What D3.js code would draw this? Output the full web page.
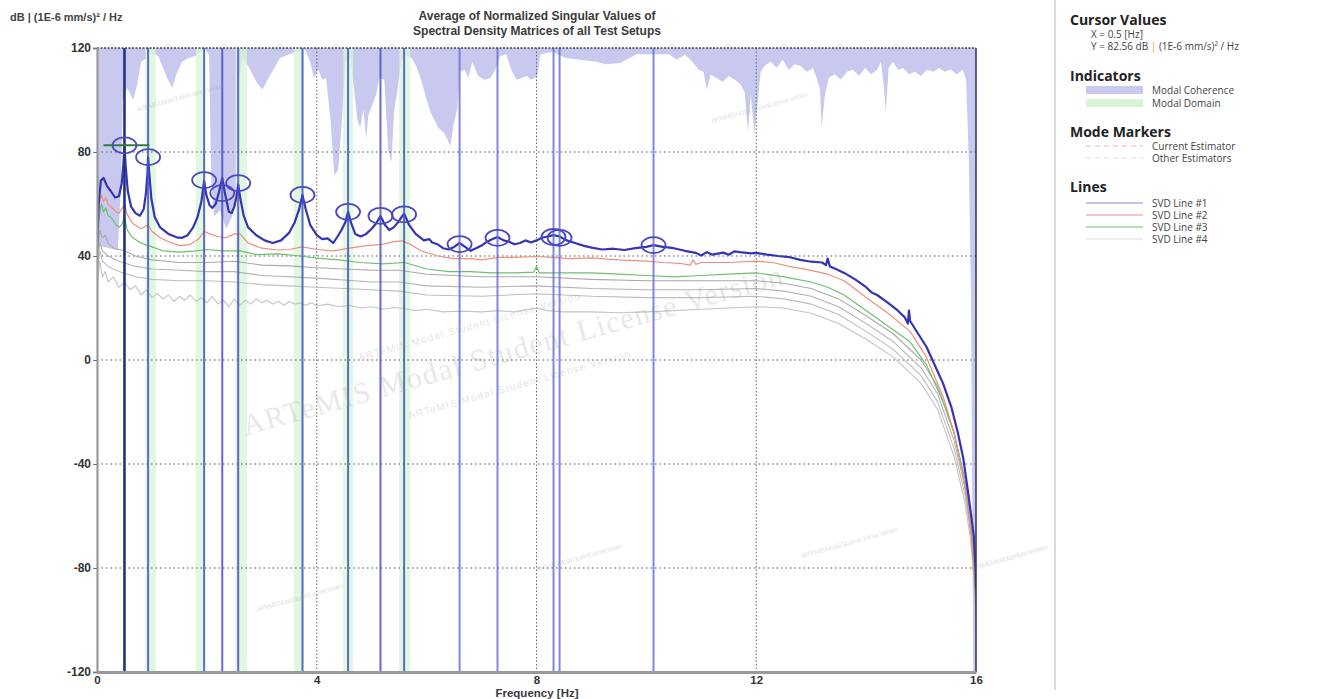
<!DOCTYPE html>
<html>
<head>
<meta charset="utf-8">
<script src="https://cdn.jsdelivr.net/npm/d3@7"></script>
<style>
  html, body { margin: 0; padding: 0; background: #fff; }
  svg { display: block; }
</style>
</head>
<body>
<svg id="chart" width="1321" height="699"></svg>
<script>
// ---- Data -------------------------------------------------------------
const xTicks = [0, 4, 8, 12, 16];
const yTicks = [-120, -80, -40, 0, 40, 80, 120];

// [frequency Hz, dB]
const svd1 = [[0,42],[0.03,60],[0.07,69],[0.12,70],[0.18,67],[0.25,65],[0.33,62.5],[0.40,63],[0.45,68],[0.48,75],[0.50,82.56],[0.52,75],[0.56,65],[0.62,59],[0.70,56.5],[0.78,55.5],[0.85,58],[0.89,64],[0.92,72],[0.93,78],[0.95,72],[0.99,62],[1.05,55],[1.15,51],[1.30,48.5],[1.45,47.2],[1.55,47],[1.65,48],[1.75,51],[1.83,55],[1.90,61],[1.95,68.8],[1.99,63.5],[2.05,59.5],[2.10,58.5],[2.16,60],[2.22,64.5],[2.28,70],[2.33,64],[2.40,57],[2.45,56.5],[2.50,59],[2.54,63],[2.57,67.5],[2.61,62],[2.67,55.5],[2.75,51],[2.90,48],[3.05,46],[3.20,45],[3.35,46],[3.50,49],[3.60,53],[3.68,58],[3.74,63.5],[3.80,58],[3.88,52],[4.00,48],[4.10,46.5],[4.20,46.8],[4.30,45],[4.38,47.5],[4.45,50],[4.52,53],[4.57,57],[4.62,53],[4.70,48.5],[4.80,47.5],[4.90,48.5],[5.00,50.5],[5.08,52.5],[5.16,55.4],[5.24,52],[5.32,50],[5.40,51],[5.48,53],[5.59,56.3],[5.68,52],[5.80,48.5],[5.95,46],[6.05,46.5],[6.10,45.2],[6.20,44.5],[6.30,43],[6.40,42.5],[6.50,43.5],[6.60,45],[6.70,43.5],[6.80,42],[6.90,43],[7.00,44],[7.10,45.5],[7.20,46.5],[7.29,47.3],[7.40,46],[7.50,45.5],[7.60,44.5],[7.70,45],[7.80,46],[7.90,45.2],[8.00,46],[8.10,47],[8.20,47.5],[8.31,48],[8.42,47.5],[8.55,46],[8.70,45],[8.85,44],[9.00,43.2],[9.20,42.5],[9.40,42.8],[9.60,42.3],[9.80,43],[10.00,43.5],[10.13,44.2],[10.30,43.5],[10.50,43],[10.70,42],[10.90,41.2],[11.00,40.2],[11.10,41.5],[11.20,40.5],[11.40,41.3],[11.50,40.5],[11.60,41.8],[11.70,41.5],[11.90,41],[12.00,41.2],[12.20,40.5],[12.40,40],[12.60,39.6],[12.80,38.5],[13.00,37.8],[13.20,37.5],[13.27,36.5],[13.30,39],[13.34,36],[13.45,35],[13.60,33.5],[13.80,31],[14.00,28],[14.10,26],[14.20,25],[14.40,22],[14.55,19.5],[14.70,16.5],[14.76,14],[14.78,19],[14.80,15],[14.95,10],[15.10,5],[15.25,-2],[15.40,-9],[15.55,-18],[15.67,-28],[15.77,-38],[15.85,-50],[15.92,-61],[15.96,-68],[15.99,-80],[16.00,-88]];

const svd2 = [[0,45],[0.04,60],[0.08,63.5],[0.12,61],[0.16,62.5],[0.20,60],[0.25,59],[0.30,58],[0.35,57],[0.40,56.5],[0.45,58],[0.50,60],[0.55,56],[0.65,52.5],[0.80,50.5],[0.93,52],[1.00,49.5],[1.15,47],[1.30,45.5],[1.50,44],[1.70,44.5],[1.85,46.5],[1.95,49.5],[2.05,48.5],[2.20,47.5],[2.35,47],[2.50,48.5],[2.60,48.5],[2.75,45],[3.00,43],[3.30,42.3],[3.50,42.5],[3.74,43.5],[4.00,42.5],[4.30,42],[4.60,43],[4.90,44],[5.20,44.5],[5.40,45.5],[5.55,45.8],[5.70,44.5],[5.90,42],[6.20,40],[6.50,39],[6.80,39],[7.00,38.5],[7.30,39.5],[7.60,39.5],[8.00,39.8],[8.30,39.5],[8.60,39],[9.00,39.3],[9.50,38.5],[10.00,38],[10.30,37.5],[10.60,37.2],[10.80,36.5],[10.85,38.5],[10.90,36.8],[11.00,37.5],[11.50,37.5],[12.00,38],[12.30,37.5],[12.60,36],[13.00,34.5],[13.30,33],[13.60,30.5],[14.00,24],[14.40,18],[14.80,11],[15.10,1],[15.40,-14],[15.60,-28],[15.75,-43],[15.85,-55],[15.91,-66],[15.96,-78],[16.00,-92]];

const svd3 = [[0,40],[0.04,55],[0.08,60],[0.12,57],[0.16,58.5],[0.20,55.5],[0.25,55],[0.30,53.5],[0.35,52],[0.40,51],[0.45,52],[0.50,55],[0.55,50],[0.65,47],[0.80,45],[1.00,43.5],[1.20,42],[1.50,41.5],[1.80,42],[2.00,42.5],[2.30,42],[2.60,42],[2.90,40.5],[3.30,40.8],[3.70,40],[4.00,39.2],[4.40,38.5],[4.80,37.5],[5.20,37],[5.60,37.5],[6.00,35],[6.40,34],[6.80,34],[7.20,33.5],[7.60,33.5],[7.95,33.8],[8.00,36],[8.05,33.5],[8.50,33.5],[9.00,33.5],[9.50,33],[10.00,32.5],[10.50,32],[11.00,32.5],[11.50,33],[12.00,33.5],[12.50,32],[13.00,30],[13.30,28],[13.60,25],[14.00,19],[14.40,13],[14.80,7],[15.10,-2],[15.40,-16],[15.60,-28],[15.75,-42],[15.85,-56],[15.92,-68],[15.97,-82],[16.00,-95]];

const svd4 = [[0,38],[0.05,50],[0.10,47],[0.15,48],[0.20,45],[0.30,43],[0.50,42],[0.70,40],[1.00,38.5],[1.50,37.5],[2.00,37.5],[2.50,38],[3.00,36.5],[3.50,36.2],[4.00,35.5],[4.50,35],[5.00,34.5],[5.50,34.5],[6.00,33],[7.00,32],[8.00,32],[9.00,31],[10.00,30.5],[11.00,30.5],[12.00,30.5],[12.50,29.5],[13.00,27.5],[13.50,23.5],[14.00,17],[14.50,10],[15.00,0],[15.30,-10],[15.60,-28],[15.80,-46],[15.90,-60],[15.96,-75],[16.00,-97]];

const svd5 = [[0,35],[0.05,45],[0.10,42],[0.20,40],[0.40,38],[0.70,36],[1.00,35],[1.50,34.5],[2.00,34],[2.50,34],[3.00,32.5],[4.00,31.5],[5.00,30],[5.50,30],[6.00,28.5],[7.00,28],[8.00,28.5],[9.00,27.5],[10.00,27],[11.00,27],[12.00,27.5],[12.50,26.5],[13.00,24.5],[13.50,20.5],[14.00,14],[14.50,7],[15.00,-3],[15.30,-13],[15.60,-31],[15.80,-49],[15.90,-63],[15.96,-78],[16.00,-99]];

const svd6 = [[0,32],[0.05,42],[0.10,38],[0.20,36],[0.40,34],[0.70,32],[1.00,31],[1.50,30.5],[2.00,30.5],[2.50,30],[3.00,29],[4.00,28],[5.00,27],[5.50,26.5],[6.00,25],[7.00,24.5],[8.00,25.5],[9.00,24.5],[10.00,24],[11.00,24],[12.00,24.5],[12.50,23.5],[13.00,21.5],[13.50,17.5],[14.00,11],[14.50,4],[15.00,-6],[15.30,-16],[15.60,-34],[15.80,-52],[15.90,-66],[15.96,-81],[16.00,-101]];

const svd7 = [[0,28],[0.05,38],[0.10,32],[0.15,34],[0.20,30],[0.30,32],[0.40,28],[0.50,30],[0.60,27],[0.70,28.5],[0.80,25],[0.90,27],[1.00,24],[1.10,25.5],[1.20,23.5],[1.30,25],[1.40,22.5],[1.50,24.5],[1.60,23],[1.70,25],[1.80,22.5],[1.90,24],[2.00,22],[2.10,24.5],[2.20,21.5],[2.30,23],[2.40,20.5],[2.50,23.5],[2.60,21],[2.70,23],[2.80,21.5],[2.90,23.5],[3.00,22],[3.10,23],[3.20,21.5],[3.30,22.5],[3.40,21],[3.50,22.5],[3.60,21.5],[3.70,22],[3.80,21],[3.90,22],[4.00,20.8],[4.20,21.5],[4.40,20.5],[4.60,21],[4.80,20],[5.00,20.5],[5.20,19.5],[5.40,20.2],[5.60,19.8],[5.80,19],[6.00,19.5],[6.30,18.5],[6.60,18.8],[7.00,18.5],[7.30,19],[7.60,18.5],[8.00,20],[8.20,19],[8.50,18.5],[9.00,18.5],[9.50,18.2],[10.00,18.5],[10.50,19],[11.00,19.5],[11.50,20],[12.00,20.5],[12.50,20],[13.00,18],[13.50,14],[14.00,8],[14.50,1],[15.00,-9],[15.30,-19],[15.60,-37],[15.80,-55],[15.90,-69],[15.96,-84],[16.00,-103]];

// Modal coherence, [frequency Hz, coherence 0..1], drawn down from the top edge
const coherence = [[0,0.316],[0.38,0.324],[0.44,0.212],[0.47,0.083],[0.55,0.064],[0.66,0.083],[0.73,0.059],[0.80,0.022],[0.91,0.016],[0.97,0.006],[1.11,0.013],[1.18,0.027],[1.29,0.051],[1.37,0.064],[1.44,0.043],[1.55,0.022],[1.66,0.016],[1.79,0.013],[1.88,0.006],[1.97,0.003],[2.04,0.011],[2.08,0.212],[2.13,0.27],[2.24,0.26],[2.35,0.29],[2.46,0.27],[2.53,0.25],[2.57,0.051],[2.66,0.016],[2.79,0.035],[2.90,0.054],[3.01,0.067],[3.12,0.048],[3.23,0.032],[3.33,0.016],[3.48,0.011],[3.63,0.006],[3.79,0.003],[3.88,0.022],[3.95,0.048],[4.03,0.035],[4.10,0.051],[4.17,0.048],[4.25,0.115],[4.32,0.204],[4.39,0.196],[4.46,0.115],[4.52,0.022],[4.61,0.016],[4.68,0.067],[4.74,0.115],[4.79,0.128],[4.85,0.099],[4.90,0.147],[4.94,0.107],[5.01,0.091],[5.08,0.075],[5.14,0.048],[5.23,0.051],[5.30,0.163],[5.36,0.183],[5.41,0.099],[5.47,0.067],[5.54,0.019],[5.63,0.011],[5.72,0.016],[5.81,0.029],[5.90,0.051],[6.00,0.083],[6.07,0.103],[6.14,0.115],[6.21,0.128],[6.31,0.135],[6.38,0.147],[6.43,0.157],[6.49,0.123],[6.56,0.096],[6.61,0.038],[6.69,0.035],[6.76,0.048],[6.83,0.022],[6.94,0.045],[7.05,0.051],[7.16,0.048],[7.25,0.035],[7.34,0.013],[7.45,0.010],[7.54,0.035],[7.64,0.051],[7.73,0.048],[7.82,0.045],[7.91,0.051],[8.02,0.045],[8.07,0.010],[8.29,0.006],[8.53,0.016],[8.80,0.019],[9.09,0.022],[9.26,0.026],[9.53,0.024],[9.82,0.010],[10.11,0.010],[10.41,0.010],[10.55,0.019],[10.70,0.011],[10.84,0.022],[10.95,0.035],[11.04,0.038],[11.10,0.067],[11.17,0.043],[11.28,0.048],[11.39,0.054],[11.50,0.045],[11.61,0.051],[11.72,0.059],[11.79,0.071],[11.85,0.135],[11.90,0.075],[11.97,0.139],[12.03,0.083],[12.08,0.038],[12.15,0.029],[12.26,0.022],[12.37,0.032],[12.48,0.019],[12.59,0.035],[12.70,0.026],[12.81,0.029],[12.92,0.038],[13.03,0.032],[13.10,0.048],[13.16,0.067],[13.19,0.128],[13.25,0.075],[13.32,0.048],[13.43,0.042],[13.54,0.051],[13.65,0.038],[13.76,0.035],[13.87,0.045],[13.98,0.032],[14.09,0.042],[14.20,0.035],[14.27,0.022],[14.32,0.059],[14.36,0.103],[14.41,0.032],[14.49,0.022],[14.58,0.035],[14.67,0.032],[14.78,0.042],[14.89,0.038],[15.00,0.045],[15.11,0.035],[15.22,0.038],[15.33,0.032],[15.43,0.038],[15.54,0.035],[15.65,0.042],[15.76,0.035],[15.82,0.051],[15.87,0.18],[15.91,0.40],[15.95,1.0],[16.0,1.0]];

// Modal domain bands [from Hz, to Hz]
const modalDomains = [[0.88,1.07],[1.80,1.97],[2.52,2.73],[3.58,3.77],[4.48,4.66],[5.50,5.70]];

// Picked modes: frequency and peak level
const modeFreq = [0.50, 0.93, 1.95, 2.28, 2.57, 3.74, 4.57, 5.16, 5.59, 6.60, 7.29, 8.31, 8.42, 10.13];
const modeDb   = [82.56, 78, 69.2, 64.2, 68, 63.5, 57, 55.4, 56, 44.6, 47, 47.3, 47, 44.2];

// Cursor position
const cursorX = 0.5;
const cursorY = 82.56;

const seriesNames = ["SVD Line #1", "SVD Line #2", "SVD Line #3", "SVD Line #4"];

// ---- Drawing ----------------------------------------------------------
const svg = d3.select("#chart");
const x = d3.scaleLinear().domain([0, 16]).range([97, 976]);
const y = d3.scaleLinear().domain([-120, 120]).range([672, 48]);
const cohY = d3.scaleLinear().domain([0, 1]).range([48, 672]);
const yTop = y(120), yBot = y(-120);

svg.append("defs").append("clipPath").attr("id", "plotClip")
  .append("rect").attr("x", x(0)).attr("y", yTop)
  .attr("width", x(16) - x(0)).attr("height", yBot - yTop);

const plot = svg.append("g").attr("clip-path", "url(#plotClip)");

// modal coherence
plot.append("path")
  .datum(coherence)
  .attr("fill", "#c9c9ef")
  .attr("d", d3.area().x(d => x(d[0])).y0(yTop).y1(d => cohY(d[1])));

// modal domain bands
plot.selectAll("rect.domain").data(modalDomains).join("rect")
  .attr("class", "domain")
  .attr("x", d => x(d[0])).attr("width", d => x(d[1]) - x(d[0]))
  .attr("y", yTop).attr("height", yBot - yTop)
  .attr("fill", "#d6f4d6").attr("opacity", 0.75);

// grid
plot.selectAll("line.hgrid").data(yTicks.filter(v => v > -120 && v < 120)).join("line")
  .attr("class", "hgrid")
  .attr("x1", x(0)).attr("x2", x(16)).attr("y1", d => y(d)).attr("y2", d => y(d))
  .attr("stroke", "#555").attr("stroke-width", 1.2).attr("stroke-dasharray", "1.5,3");
plot.selectAll("line.vgrid").data(xTicks.filter(v => v > 0 && v < 16)).join("line")
  .attr("class", "vgrid")
  .attr("x1", d => x(d)).attr("x2", d => x(d)).attr("y1", yTop).attr("y2", yBot)
  .attr("stroke", "#666").attr("stroke-width", 1).attr("stroke-dasharray", "1.5,2");

// watermark
const wm = svg.append("g").attr("pointer-events", "none");
wm.append("text")
  .attr("transform", "translate(515,360) rotate(-15.7)")
  .attr("text-anchor", "middle")
  .attr("font-family", "Liberation Serif, serif")
  .attr("font-size", 30)
  .attr("textLength", 560)
  .attr("fill", "#999").attr("opacity", 0.22)
  .text("ARTeMIS Modal Student License Version");
[[470, 330, 10, 230], [520, 388, 10, 230], [180, 100, 7, 90], [760, 110, 7, 100], [850, 545, 7, 100], [300, 600, 7, 90], [1010, 560, 7, 80], [580, 560, 7, 90]].forEach(([cx, cy, fs, len]) => {
  wm.append("text")
    .attr("transform", `translate(${cx},${cy}) rotate(-15.7)`)
    .attr("text-anchor", "middle")
    .attr("font-family", "Liberation Sans, Arial, sans-serif")
    .attr("font-size", fs).attr("textLength", len)
    .attr("fill", "#999").attr("opacity", 0.25)
    .text("ARTeMIS Modal Student License Version");
});

// SVD lines (lowest first)
const line = d3.line().x(d => x(d[0])).y(d => y(d[1]));
const lineStyles = [
  { data: svd7, color: "#c4c4c4", w: 1.1 },
  { data: svd6, color: "#bdbdbd", w: 1.1 },
  { data: svd5, color: "#b3b3b3", w: 1.1 },
  { data: svd4, color: "#a9a9a9", w: 1.1 },
  { data: svd3, color: "#6fbf6f", w: 1.2 },
  { data: svd2, color: "#ee8f7e", w: 1.2 },
  { data: svd1, color: "#3434b4", w: 2.2 }
];
lineStyles.forEach(s => {
  plot.append("path").datum(s.data)
    .attr("fill", "none").attr("stroke", s.color).attr("stroke-width", s.w)
    .attr("stroke-linejoin", "round").attr("d", line);
});

// mode lines
plot.selectAll("line.mode").data(modeFreq).join("line")
  .attr("class", "mode")
  .attr("x1", d => x(d)).attr("x2", d => x(d)).attr("y1", yTop).attr("y2", yBot)
  .attr("stroke", (d, i) => i < 9 ? "#4a52c4" : "#6f6fdc")
  .attr("stroke-width", 2).attr("opacity", 0.85);

// cursor
plot.append("line")
  .attr("x1", x(cursorX)).attr("x2", x(cursorX)).attr("y1", yTop).attr("y2", yBot)
  .attr("stroke", "#20357e").attr("stroke-width", 2.4);
plot.append("line")
  .attr("x1", x(cursorX) - 21).attr("x2", x(cursorX) + 25).attr("y1", y(cursorY)).attr("y2", y(cursorY))
  .attr("stroke", "#2f7d3a").attr("stroke-width", 2);

// mode marker ellipses
plot.selectAll("ellipse.peak").data(modeFreq).join("ellipse")
  .attr("class", "peak")
  .attr("cx", d => x(d)).attr("cy", (d, i) => y(modeDb[i]))
  .attr("rx", 12).attr("ry", 8)
  .attr("fill", "none").attr("stroke", "#4848c4").attr("stroke-width", 1.8);

// frame
svg.append("line").attr("x1", x(0)).attr("x2", x(16)).attr("y1", yTop).attr("y2", yTop)
  .attr("stroke", "#444").attr("stroke-width", 1.5).attr("stroke-dasharray", "2,1.5");
svg.append("line").attr("x1", x(16)).attr("x2", x(16)).attr("y1", yTop).attr("y2", yBot)
  .attr("stroke", "#3a3a5a").attr("stroke-width", 1.6);

// axes
const font = "Liberation Sans, Arial, sans-serif";
const plain = d => String(d);
const yAxis = svg.append("g").attr("transform", `translate(${x(0)},0)`)
  .call(d3.axisLeft(y).tickValues(yTicks).tickFormat(plain).tickSize(4).tickPadding(2));
yAxis.select(".domain").attr("stroke", "#999").attr("stroke-width", 2.2);
yAxis.selectAll(".tick line").attr("stroke", "#777");
yAxis.selectAll("text").attr("font-family", font).attr("font-size", 12)
  .attr("font-weight", "bold").attr("fill", "#333");

const xAxis = svg.append("g").attr("transform", `translate(0,${yBot})`)
  .call(d3.axisBottom(x).tickValues(xTicks).tickFormat(plain).tickSize(0).tickPadding(4));
xAxis.select(".domain").attr("stroke", "#999").attr("stroke-width", 3);
xAxis.selectAll("text").attr("font-family", font).attr("font-size", 11.5)
  .attr("font-weight", "bold").attr("fill", "#333");

// titles
svg.append("text").attr("x", 10).attr("y", 21)
  .attr("font-family", font).attr("font-size", 11).attr("font-weight", "bold").attr("fill", "#444")
  .text("dB | (1E-6 mm/s)² / Hz");
const title = svg.append("text").attr("text-anchor", "middle")
  .attr("font-family", font).attr("font-size", 12).attr("font-weight", "bold").attr("fill", "#3a3a3a");
title.append("tspan").attr("x", 537).attr("y", 20).text("Average of Normalized Singular Values of");
title.append("tspan").attr("x", 537).attr("y", 35).text("Spectral Density Matrices of all Test Setups");
svg.append("text").attr("x", 537).attr("y", 697).attr("text-anchor", "middle")
  .attr("font-family", font).attr("font-size", 11.5).attr("font-weight", "bold").attr("fill", "#3a3a3a")
  .text("Frequency [Hz]");

// ---- Side panel -------------------------------------------------------
svg.append("line").attr("x1", 1055).attr("x2", 1055).attr("y1", 0).attr("y2", 690)
  .attr("stroke", "#b5b5b5").attr("stroke-width", 1);

const lf = "Open Sans, Noto Sans, sans-serif";
const panel = svg.append("g");
function header(txt, yy) {
  panel.append("text").attr("x", 1070).attr("y", yy)
    .attr("font-family", lf).attr("font-size", 14).attr("font-weight", "bold").attr("fill", "#222").text(txt);
}
function item(txt, xx, yy) {
  return panel.append("text").attr("x", xx).attr("y", yy)
    .attr("font-family", lf).attr("font-size", 10).attr("fill", "#444").text(txt);
}
header("Cursor Values", 25);
item(`X = ${cursorX} [Hz]`, 1091, 38);
const yItem = item("", 1091, 50);
yItem.append("tspan").text(`Y = ${cursorY} dB `);
yItem.append("tspan").attr("fill", "#e0a030").text("|");
yItem.append("tspan").text(" (1E-6 mm/s)² / Hz");

header("Indicators", 81);
panel.append("rect").attr("x", 1086).attr("y", 86).attr("width", 57).attr("height", 8).attr("fill", "#c9c9ef");
item("Modal Coherence", 1152, 94);
panel.append("rect").attr("x", 1086).attr("y", 99).attr("width", 57).attr("height", 8).attr("fill", "#d6f4d6");
item("Modal Domain", 1152, 107);

header("Mode Markers", 137);
panel.append("line").attr("x1", 1086).attr("x2", 1143).attr("y1", 146).attr("y2", 146)
  .attr("stroke", "#eab8a6").attr("stroke-width", 1.2).attr("stroke-dasharray", "5,4");
item("Current Estimator", 1152, 150);
panel.append("line").attr("x1", 1086).attr("x2", 1143).attr("y1", 158).attr("y2", 158)
  .attr("stroke", "#f1dccb").attr("stroke-width", 1.2).attr("stroke-dasharray", "5,4");
item("Other Estimators", 1152, 162);

header("Lines", 192);
const legendColors = ["#8a8ae0", "#ee8f7e", "#6fbf6f", "#dcdcdc"];
seriesNames.forEach((n, i) => {
  const yy = 203 + i * 12;
  panel.append("line").attr("x1", 1086).attr("x2", 1143).attr("y1", yy).attr("y2", yy)
    .attr("stroke", legendColors[i]).attr("stroke-width", 1.2);
  item(n, 1152, yy + 4);
});
</script>
</body>
</html>
